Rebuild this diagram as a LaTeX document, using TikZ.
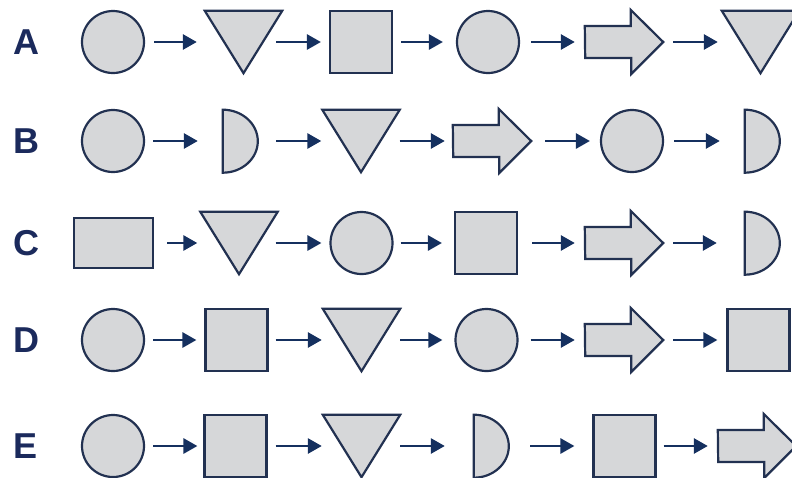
\documentclass[tikz,border=0pt]{standalone}
\usepackage{fontspec}
\setsansfont{Liberation Sans}
\usepackage{tikz}
\usetikzlibrary{arrows.meta}

\definecolor{shade}{HTML}{D6D7D9}
\definecolor{edge}{HTML}{223151}
\definecolor{ink}{HTML}{1B2A5C}
\definecolor{flowc}{HTML}{15305F}

\tikzset{
  shp/.style={draw=edge,fill=shade,line width=2.2pt},
  slot/.style={rectangle,inner sep=0pt},
  disc/.style={shp,circle,minimum size=62pt,inner sep=0pt},
  sq/.style={shp,rectangle,minimum size=62pt,inner sep=0pt},
  flow/.style={draw=flowc,line width=2.8pt,-{Triangle[length=14pt,width=15pt]}},
  lbl/.style={text=ink,font=\sffamily\bfseries\fontsize{36}{36}\selectfont}
}

\begin{document}
\begin{tikzpicture}[x=1pt,y=-1pt]
\useasboundingbox (0,0) rectangle (792,477);

% row letters
\foreach \r/\y in {A/42,B/141,C/243,D/340,E/446}
  \node[lbl] (l\r) at (26,\y) {\r};

% circles and squares
\foreach \n/\x/\y in {a1/113/42,a4/488/42,b1/113/141,b5/632/141,c3/361.5/243,
                      d1/113/340,d4/486.5/340,e1/113/446}
  \node[disc] (\n) at (\x,\y) {};
\foreach \n/\x/\y in {a3/361/42,c4/486/243,d2/236.5/340,d6/758.5/340,
                      e2/235.5/446,e5/624.5/446}
  \node[sq] (\n) at (\x,\y) {};
\node[shp,minimum width=79pt,minimum height=50pt,inner sep=0pt] (c1) at (113.5,243) {};

% triangles, point down
\foreach \n/\x/\y in {a2/243.5/42,a6/760.5/42,b3/361/141,c2/239/243,
                      d3/361.5/340,e3/361.5/446} {
  \node[slot,minimum width=77pt,minimum height=62pt] (\n) at (\x,\y) {};
  \draw[shp] (\n.north west) -- (\n.north east) -- (\n.south) -- cycle;
}

% half discs
\foreach \n/\x/\y in {b2/240.5/141,b6/762.5/141,c6/762.5/243,e4/491.5/446} {
  \node[slot,minimum width=35pt,minimum height=63pt] (\n) at (\x,\y) {};
  \draw[shp] (\n.south west) arc[start angle=-90,end angle=90,x radius=35pt,y radius=31.5pt] -- cycle;
}

% block arrows
\foreach \n/\x/\y in {a5/624/42,b4/492/141,c5/624/243,d5/624/340,e6/757/446} {
  \node[slot,minimum width=78pt,minimum height=64pt] (\n) at (\x,\y) {};
  \draw[shp] (\n.west) ++(0,-16) -- ++(46,0) -- ++(0,-16) -- (\n.east)
    -- ++(-32,32) -- ++(0,-16) -- ++(-46,0) -- cycle;
}

% connectors
\foreach \s/\t/\p/\q in {a1/a2/9/8,a2/a3/-6/8,a3/a4/8/13,a4/a5/11/10,a5/a6/10/4,
                         b1/b2/8/25,b2/b3/18/1,b3/b4/0/8,b4/b5/14/10,b5/b6/10/25,
                         c1/c2/13/3,c2/c3/-2/8,c3/c4/7/12,c4/c5/14/10,c5/c6/10/28,
                         d1/d2/8/8,d2/d3/7/1,d3/d4/0/12,d4/d5/12/10,d5/d6/10/9,
                         e1/e2/8/6,e2/e3/8/1,e3/e4/0/29,e4/e5/21/18,e5/e6/7/10}
  \draw[flow,shorten <=\p pt,shorten >=\q pt] (\s) -- (\t);
\end{tikzpicture}
\end{document}
